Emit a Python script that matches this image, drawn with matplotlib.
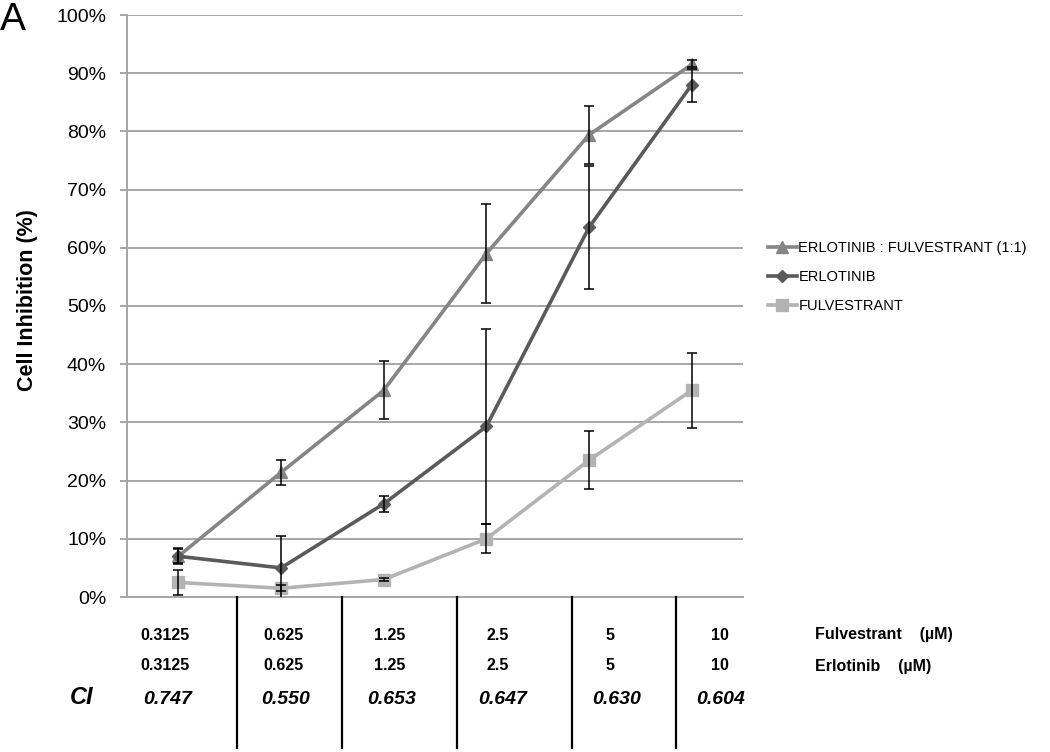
import matplotlib
matplotlib.use("Agg")
import matplotlib.pyplot as plt
from matplotlib.lines import Line2D

plt.rcParams['font.family'] = ['Liberation Sans', 'DejaVu Sans']

# ---- data ----
concentrations = ["0.3125", "0.625", "1.25", "2.5", "5", "10"]
ci_values = ["0.747", "0.550", "0.653", "0.647", "0.630", "0.604"]
series_names = ["ERLOTINIB : FULVESTRANT (1:1)", "ERLOTINIB", "FULVESTRANT"]
combo = [7.0, 21.4, 35.5, 59.0, 79.4, 91.5]
combo_sd = [1.4, 2.1, 5.0, 8.5, 5.0, 0.7]
erlotinib = [7.0, 5.0, 16.0, 29.3, 63.5, 88.0]
erlotinib_sd = [1.2, 5.5, 1.4, 16.7, 10.5, 3.0]
fulvestrant = [2.5, 1.5, 3.0, 10.0, 23.5, 35.5]
fulvestrant_sd = [2.1, 0.5, 0.3, 2.5, 5.0, 6.4]
yticks = [0, 10, 20, 30, 40, 50, 60, 70, 80, 90, 100]

W, H = 1050, 752
fig = plt.figure(figsize=(W / 100, H / 100), dpi=100)

def fx(px):
    return px / W

def fy(py):
    return 1 - py / H

ax = fig.add_axes([fx(127), fy(597), fx(743) - fx(127), fy(15) - fy(597)])

x = list(range(len(concentrations)))
styles = [
    (combo, combo_sd, "#858585", "^", 9),
    (erlotinib, erlotinib_sd, "#5a5a5a", "D", 6.5),
    (fulvestrant, fulvestrant_sd, "#b3b3b3", "s", 8.5),
]
for (vals, sd, col, mk, ms), name in zip(styles, series_names):
    ax.errorbar(x, vals, yerr=sd, fmt="none", ecolor="black", elinewidth=1.1,
                capsize=3.5, capthick=1.1, zorder=4)
    ax.plot(x, vals, color=col, lw=2.6, marker=mk, markersize=ms,
            markerfacecolor=col, markeredgecolor=col, label=name, zorder=3)

ax.set_xlim(-0.5, len(concentrations) - 0.5)
ax.set_ylim(0, 100)
ax.set_yticks(yticks)
ax.set_yticklabels([f"{v}%" for v in yticks], fontsize=14)
ax.set_xticks([])
ax.yaxis.grid(True, color="#a6a6a6", lw=1.4)
ax.set_axisbelow(True)
for s in ["top", "right"]:
    ax.spines[s].set_visible(False)
ax.spines["left"].set_color("#a6a6a6")
ax.spines["left"].set_linewidth(1.4)
ax.spines["bottom"].set_color("#a6a6a6")
ax.spines["bottom"].set_linewidth(1.4)
ax.tick_params(axis="y", length=5, color="#a6a6a6", width=1.4, pad=10)

fig.text(fx(28), fy(300), "Cell Inhibition (%)", rotation=90, fontsize=15.5,
         fontweight="bold", ha="center", va="center")
fig.text(fx(0), fy(20), "A", fontsize=28, ha="left", va="center")

leg = ax.legend(loc="center left", bbox_to_anchor=(fx(762), fy(277)),
                bbox_transform=fig.transFigure, frameon=False, fontsize=10.5,
                handlelength=2.0, handletextpad=0.1, labelspacing=1.05,
                borderaxespad=0)

# table under the axis
dividers = [237, 342, 457, 572, 676]
for d in dividers:
    fig.add_artist(Line2D([fx(d), fx(d)], [fy(597), fy(748)], color="black",
                          lw=1.6, transform=fig.transFigure))
label_x = [165, 283, 390, 498, 610, 720]
ci_x = [168, 286, 392, 503, 617, 721]
for lx, cx, c, ci in zip(label_x, ci_x, concentrations, ci_values):
    fig.text(fx(lx), fy(635), c, fontsize=11.5, fontweight="bold", ha="center", va="center")
    fig.text(fx(lx), fy(666), c, fontsize=11.5, fontweight="bold", ha="center", va="center")
    fig.text(fx(cx), fy(699), ci, fontsize=14, fontweight="bold", style="italic",
             ha="center", va="center")
fig.text(fx(815), fy(635), "Fulvestrant    (\u00b5M)", fontsize=11.5, fontweight="bold",
         ha="left", va="center")
fig.text(fx(815), fy(666), "Erlotinib    (\u00b5M)", fontsize=11.5, fontweight="bold",
         ha="left", va="center")
fig.text(fx(82), fy(698), "CI", fontsize=17, fontweight="bold", style="italic",
         ha="center", va="center")

fig.savefig("out.png", dpi=100)
